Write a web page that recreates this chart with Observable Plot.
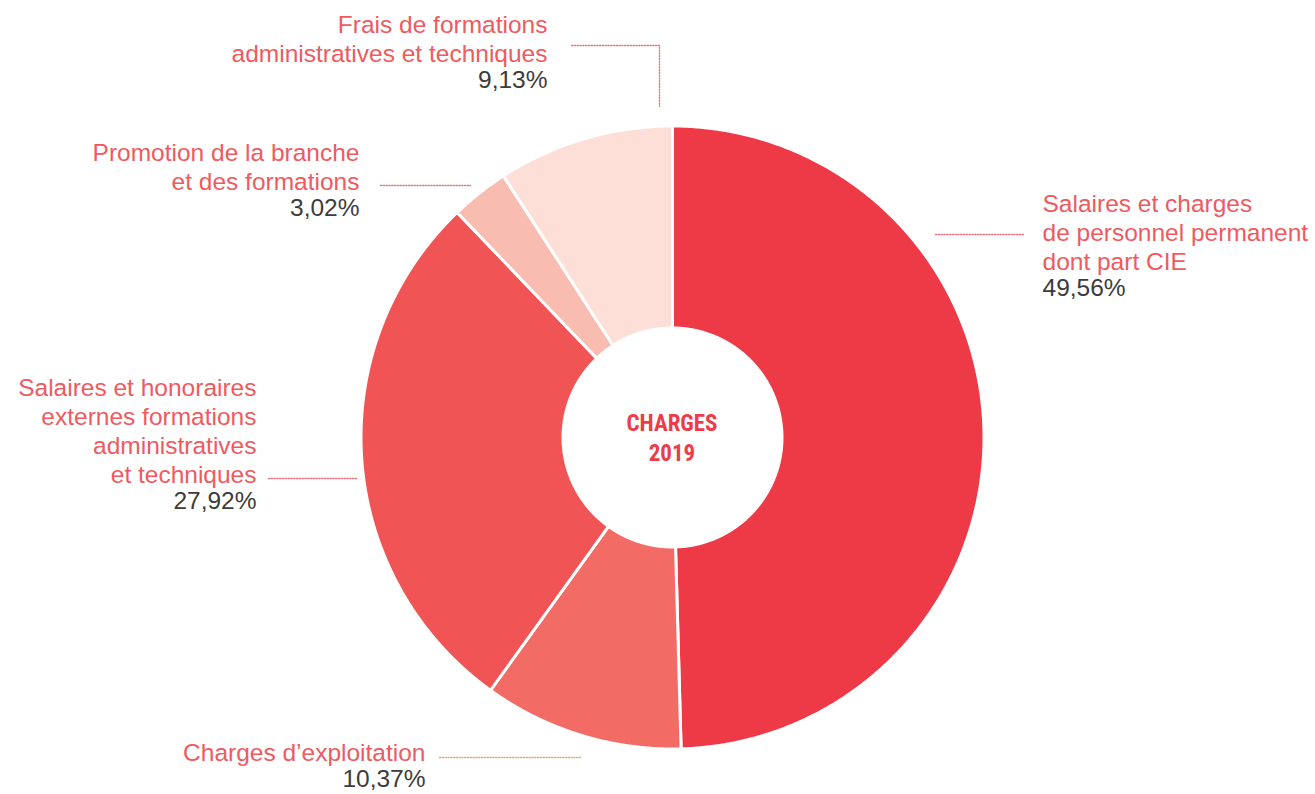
<!DOCTYPE html>
<html><head><meta charset="utf-8">
<script src="https://cdn.jsdelivr.net/npm/d3@7"></script>
<script src="https://cdn.jsdelivr.net/npm/@observablehq/plot@0.6"></script>
<style>body{margin:0;background:#fff}</style>
</head><body><div id="chart"></div>
<script>
// ---- data ----
const categories = [
  "Salaires et charges de personnel permanent dont part CIE",
  "Charges d’exploitation",
  "Salaires et honoraires externes formations administratives et techniques",
  "Promotion de la branche et des formations",
  "Frais de formations administratives et techniques"
];
const shares = [49.56, 10.37, 27.92, 3.02, 9.13];
const labelLines = [
  "Salaires et charges\nde personnel permanent\ndont part CIE",
  "Charges d’exploitation",
  "Salaires et honoraires\nexternes formations\nadministratives\net techniques",
  "Promotion de la branche\net des formations",
  "Frais de formations\nadministratives et techniques"
];
const centerTitle = "CHARGES\n2019";

// ---- styles / layout (not data) ----
const colors = ["#EE3A47", "#F36B65", "#F05455", "#F9BCB0", "#FDDFD8"];
const layout = [
  {anchor: "start", x: 1042, base: 213, leader: [[935, 234], [1023, 234]], leaderColor: "#F0707A"},
  {anchor: "end", x: 425, base: 762, leader: [[439, 757], [581, 757]], leaderColor: "#F2A374"},
  {anchor: "end", x: 256, base: 397, leader: [[268, 478], [357, 478]], leaderColor: "#F0707A"},
  {anchor: "end", x: 359, base: 162, leader: [[380, 185], [470, 185]], leaderColor: "#F0707A"},
  {anchor: "end", x: 547, base: 33.5, leader: [[571, 45], [659, 45], [659, 106]], leaderColor: "#F0707A"}
];
const W = 1315, H = 794;
const cx = 672, cy = 437, R = 311.5, r0 = 109.5;
const fs = 24.5, lh = 29, shift = 4.5;
const font = "'Liberation Sans', Arial, Helvetica, sans-serif";

const data = categories.map((c, i) => ({cat: c, share: shares[i], label: labelLines[i], color: colors[i], ...layout[i]}));
const fmt = v => d3.format(".2f")(v).replace(".", ",") + "%";

const arcs = d3.pie().sort(null).value(d => d.share).startAngle(0).endAngle(2 * Math.PI)(data);

function slicePoints(a) {
  const pts = [];
  const n = Math.max(2, Math.ceil((a.endAngle - a.startAngle) / (2 * Math.PI) * 900));
  for (let k = 0; k <= n; k++) {
    const t = a.startAngle + (a.endAngle - a.startAngle) * k / n;
    pts.push({x: cx + R * Math.sin(t), y: cy - R * Math.cos(t)});
  }
  for (let k = n; k >= 0; k--) {
    const t = a.startAngle + (a.endAngle - a.startAngle) * k / n;
    pts.push({x: cx + r0 * Math.sin(t), y: cy - r0 * Math.cos(t)});
  }
  pts.push(pts[0]);
  return pts;
}

const marks = [];
arcs.forEach(a => {
  marks.push(Plot.line(slicePoints(a), {x: "x", y: "y", fill: a.data.color, stroke: "white", strokeWidth: 3, strokeLinejoin: "round"}));
});
data.forEach(d => {
  marks.push(Plot.line(d.leader.map(p => ({x: p[0], y: p[1]})), {x: "x", y: "y", stroke: d.leaderColor, strokeWidth: 1.4, strokeDasharray: "1.2,1.6"}));
  const nLines = d.label.split("\n").length;
  marks.push(Plot.text([d], {x: "x", y: dd => dd.base - 0.71 * fs - shift, text: "label", textAnchor: d.anchor, lineAnchor: "top", fontSize: fs, lineHeight: lh / fs, fill: "#EF5A5F", fontFamily: font}));
  marks.push(Plot.text([d], {x: "x", y: dd => dd.base + nLines * lh - 0.71 * fs - shift, text: dd => fmt(dd.share), textAnchor: d.anchor, lineAnchor: "top", fontSize: fs, fill: "#3C3C3C", fontFamily: font}));
});
const cfs = 23;
marks.push(Plot.text([{t: centerTitle}], {x: () => 671.5, y: () => 430 - 0.71 * cfs - 4.5, text: "t", lineAnchor: "top", fontSize: cfs, lineHeight: 30 / cfs, fontWeight: "bold", fill: "#EE3B48", fontFamily: "'Liberation Sans Narrow', 'Roboto Condensed', Roboto, sans-serif"}));

const chart = Plot.plot({
  width: W, height: H, margin: 0,
  x: {domain: [0, W], range: [0, W], axis: null},
  y: {domain: [0, H], range: [0, H], axis: null},
  style: {background: "white", fontFamily: font},
  marks
});
document.getElementById("chart").appendChild(chart);
</script>
</body></html>
